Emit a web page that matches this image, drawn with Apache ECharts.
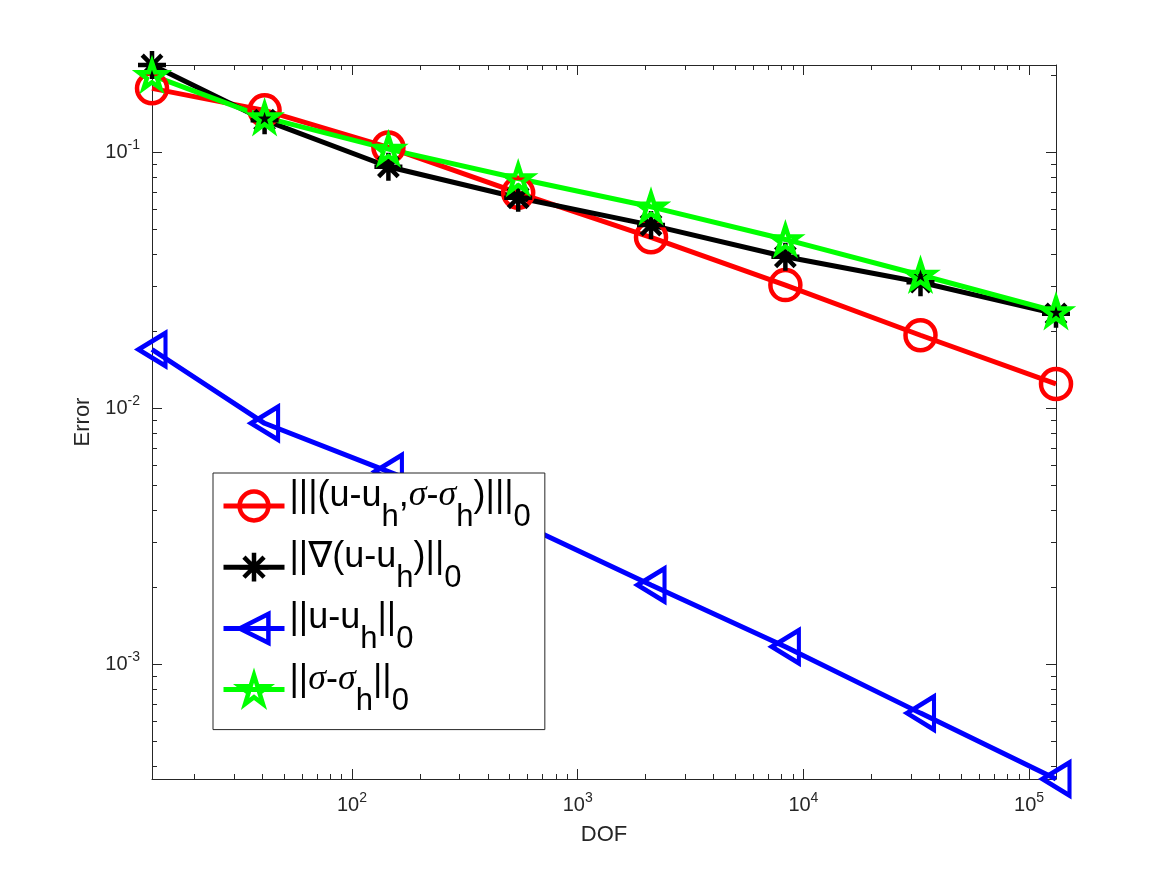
<!DOCTYPE html>
<html>
<head>
<meta charset="utf-8">
<title>Error vs DOF</title>
<script src="https://cdn.jsdelivr.net/npm/echarts@6/dist/echarts.min.js"></script>
<style>
    html, body { margin: 0; padding: 0; background: #fff; }
    #chart { width: 1167px; height: 875px; }
</style>
</head>
<body>
<div id="chart"></div>
<script>
// 自由度（8 层网格）
const dof = [13, 41, 145, 545, 2113, 8321, 33025, 131585];

// 四种误差
const errEnergy = [0.178, 0.146, 0.1046, 0.0695, 0.0466, 0.0303, 0.0193, 0.01245];
const errGrad = [0.2196, 0.1337, 0.0879, 0.0665, 0.052, 0.0391, 0.0311, 0.0234];
const errL2 = [0.01698, 0.00874, 0.00566, 0.00358, 0.00204, 0.00117, 0.000644, 0.000356];
const errSigma = [0.2001, 0.137, 0.103, 0.0791, 0.0613, 0.0457, 0.0332, 0.0239];

const seriesNames = ['energy', 'grad', 'l2', 'sigma'];
// 图例文字（rich 标记：m 正文, s 下标, g 希腊字母）
const legendLabels = [
    '{m||||(u-u}{s|h}{m|,}{g|σ}{m|-}{g|σ}{s|h}{m|)|||}{s|0}',
    '{m|||∇(u-u}{s|h}{m|)||}{s|0}',
    '{m|||u-u}{s|h}{m|||}{s|0}',
    '{m|||}{g|σ}{m|-}{g|σ}{s|h}{m|||}{s|0}'
];

const xMajorTicks = [1e2, 1e3, 1e4, 1e5];
const yMajorTicks = [1e-3, 1e-2, 1e-1];

const AX = '#262626';
const xMin = Math.min(...dof), xMax = Math.max(...dof);
const allErr = [].concat(errEnergy, errGrad, errL2, errSigma);
const yMin = Math.min(...allErr), yMax = Math.max(...allErr);

// 次刻度 2..9 × 10^k
function minorTicks(lo, hi) {
    const out = [];
    for (let k = Math.floor(Math.log10(lo)); k <= Math.ceil(Math.log10(hi)); k++) {
        for (let m = 2; m <= 9; m++) {
            const v = m * Math.pow(10, k);
            if (v > lo && v < hi) out.push(v);
        }
    }
    return out;
}

const tickRich = {
    b: { fontSize: 20, fontFamily: 'Liberation Sans', color: AX },
    e: { fontSize: 14, fontFamily: 'Liberation Sans', color: AX, padding: [0, 0, 14, 0] }
};

function logAxis(pos, lo, hi, major, minor, labelMargin, extra) {
    const ax = {
        type: 'log', position: pos, min: lo, max: hi,
        axisLine: { show: !minor, lineStyle: { color: AX, width: 1 } },
        axisTick: {
            show: true, inside: true, length: minor ? 5 : 10,
            customValues: minor ? minorTicks(lo, hi) : major,
            lineStyle: { color: AX, width: 1 }
        },
        axisLabel: labelMargin ? {
            customValues: major, margin: labelMargin, rich: tickRich,
            formatter: v => '{b|10}{e|' + Math.round(Math.log10(v)) + '}'
        } : { show: false },
        splitLine: { show: false },
        minorTick: { show: false }
    };
    return Object.assign(ax, extra || {});
}

const symCircle = 'circle';
const symAsterisk = 'path://M0,-10L0,10M-10,0L10,0M-7,-7L7,7M-7,7L7,-7';
const symLeftTri = 'path://M0,16.5L27,0L27,33Z';
const symPentagram = 'path://M0,-10L2.245,-3.09L9.511,-3.09L3.633,1.18L5.878,8.09L0,3.82L-5.878,8.09L-3.633,1.18L-9.511,-3.09L-2.245,-3.09Z';

function makeSeries(name, vals, color, symbol, size) {
    return {
        name: name, type: 'line', clip: false,
        data: dof.map((x, i) => [x, vals[i]]),
        symbol: symbol, symbolSize: size,
        lineStyle: { color: color, width: 5 },
        itemStyle: { color: 'rgba(0,0,0,0)', borderColor: color, borderWidth: 4.5 },
        emphasis: { disabled: true }
    };
}

const chart = echarts.init(document.getElementById('chart'));
chart.setOption({
    animation: false,
    backgroundColor: '#fff',
    grid: { left: 152, top: 65, width: 904, height: 714, containLabel: false },
    legend: {
        orient: 'vertical', left: 213, top: 473,
        padding: [5, 14, 12, 8],
        itemWidth: 61, itemHeight: 36, itemGap: 5.2,
        backgroundColor: '#fff', borderColor: AX, borderWidth: 1,
        data: seriesNames,
        itemStyle: { borderWidth: 4.5 },
        lineStyle: { width: 5 },
        formatter: name => legendLabels[seriesNames.indexOf(name)],
        textStyle: {
            color: '#000',
            rich: {
                m: { fontSize: 36, fontFamily: 'Liberation Sans, DejaVu Sans', color: '#000', lineHeight: 40, padding: [0, 0, 20, 0] },
                g: { fontSize: 36, fontFamily: 'Liberation Serif', fontStyle: 'italic', color: '#000', lineHeight: 40, padding: [0, 0, 20, 0] },
                s: { fontSize: 31, fontFamily: 'Liberation Sans', color: '#000', lineHeight: 40, padding: [23, 0, 0, 0] }
            }
        }
    },
    xAxis: [
        logAxis('bottom', xMin, xMax, xMajorTicks, false, 12, {
            name: 'DOF', nameLocation: 'middle', nameGap: 45,
            nameTextStyle: { fontSize: 22, fontFamily: 'Liberation Sans', color: AX }
        }),
        logAxis('bottom', xMin, xMax, xMajorTicks, true, 0),
        logAxis('top', xMin, xMax, xMajorTicks, false, 0),
        logAxis('top', xMin, xMax, xMajorTicks, true, 0)
    ],
    yAxis: [
        logAxis('left', yMin, yMax, yMajorTicks, false, 12, {
            name: 'Error', nameLocation: 'middle', nameGap: 58,
            nameTextStyle: { fontSize: 22, fontFamily: 'Liberation Sans', color: AX }
        }),
        logAxis('left', yMin, yMax, yMajorTicks, true, 0),
        logAxis('right', yMin, yMax, yMajorTicks, false, 0),
        logAxis('right', yMin, yMax, yMajorTicks, true, 0)
    ],
    series: [
        makeSeries('energy', errEnergy, '#ff0000', symCircle, 30),
        makeSeries('grad', errGrad, '#000000', symAsterisk, 28),
        makeSeries('l2', errL2, '#0000ff', symLeftTri, [27, 33]),
        makeSeries('sigma', errSigma, '#00ff00', symPentagram, [27, 26])
    ]
});
</script>
</body>
</html>
